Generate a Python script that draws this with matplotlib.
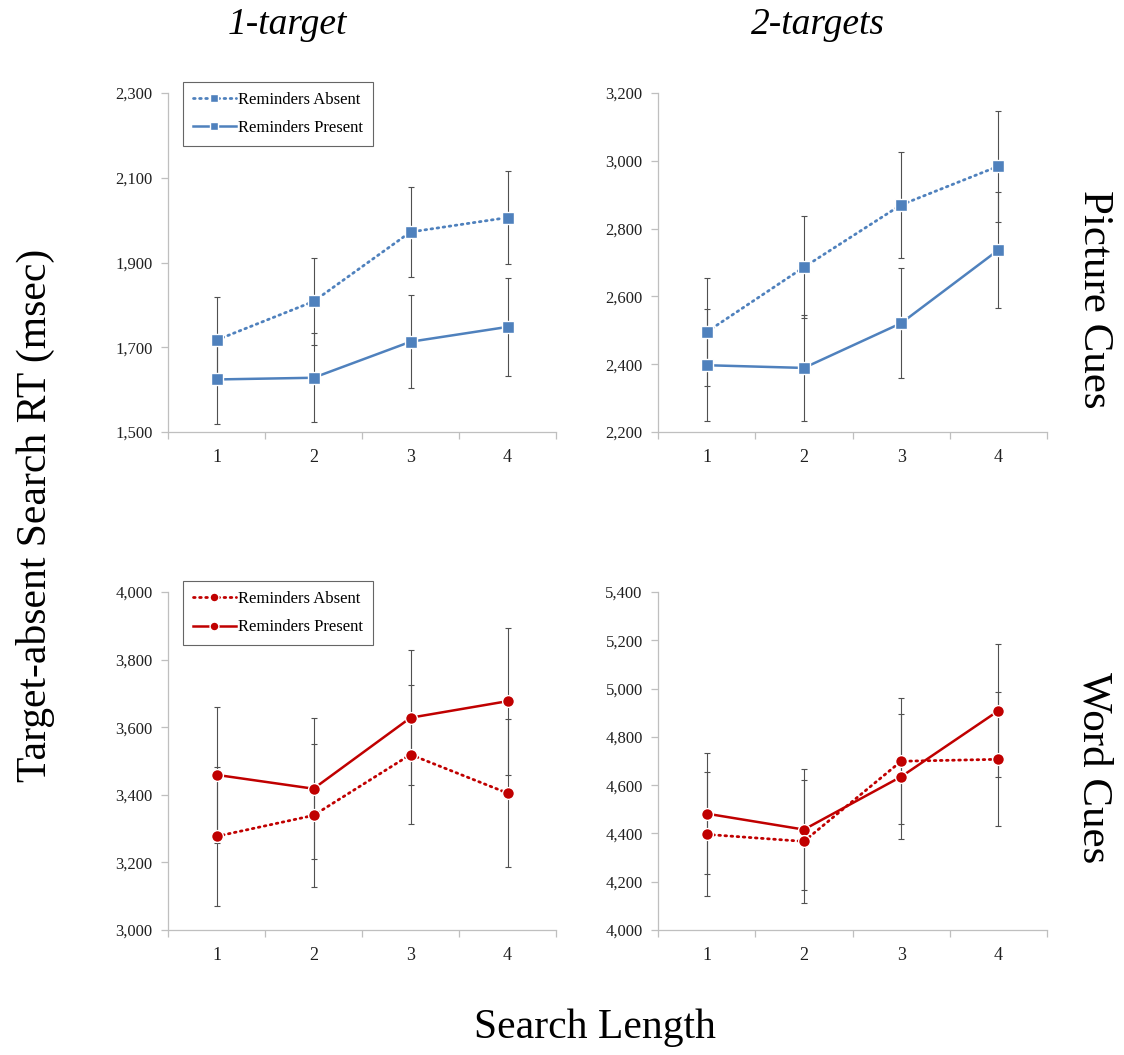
import matplotlib.pyplot as plt
import numpy as np

plt.rcParams['font.family'] = ['Liberation Serif', 'DejaVu Serif']

# search length categories
lengths = [1, 2, 3, 4]

# picture cues, 1 target
pic1_absent = [1717, 1808, 1972, 2006]
pic1_absent_err = [102, 102, 106, 110]
pic1_present = [1624, 1628, 1713, 1748]
pic1_present_err = [104, 105, 110, 116]

# picture cues, 2 targets
pic2_absent = [2495, 2686, 2870, 2984]
pic2_absent_err = [159, 150, 157, 164]
pic2_present = [2397, 2389, 2521, 2737]
pic2_present_err = [165, 156, 163, 171]

# word cues, 1 target
word1_absent = [3277, 3339, 3519, 3405]
word1_absent_err = [205, 211, 205, 219]
word1_present = [3459, 3418, 3628, 3677]
word1_present_err = [202, 209, 200, 217]

# word cues, 2 targets
word2_absent = [4396, 4367, 4699, 4707]
word2_absent_err = [257, 254, 262, 278]
word2_present = [4482, 4416, 4635, 4908]
word2_present_err = [251, 251, 258, 275]

blue = '#4F81BD'
red = '#C00000'
W, H = 1124, 1055

fig = plt.figure(figsize=(W / 100, H / 100), dpi=100)


def px_axes(x0, y0, x1, y1):
    return fig.add_axes([x0 / W, 1 - y1 / H, (x1 - x0) / W, (y1 - y0) / H])


panels = [
    (px_axes(168, 93, 556, 432), pic1_absent, pic1_absent_err, pic1_present, pic1_present_err,
     blue, 's', (1500, 2300, 200), True),
    (px_axes(658, 93, 1047, 432), pic2_absent, pic2_absent_err, pic2_present, pic2_present_err,
     blue, 's', (2200, 3200, 200), False),
    (px_axes(168, 592, 556, 930), word1_absent, word1_absent_err, word1_present, word1_present_err,
     red, 'o', (3000, 4000, 200), True),
    (px_axes(658, 592, 1047, 930), word2_absent, word2_absent_err, word2_present, word2_present_err,
     red, 'o', (4000, 5400, 200), False),
]

for ax, ab, ab_err, pr, pr_err, col, mk, (lo, hi, step), show_leg in panels:
    ms = 8 if mk == 's' else 8.5
    ax.errorbar(lengths, ab, yerr=ab_err, fmt='none', ecolor='#505050', elinewidth=0.8,
                capsize=2.5, capthick=0.8, zorder=2)
    ax.errorbar(lengths, pr, yerr=pr_err, fmt='none', ecolor='#505050', elinewidth=0.8,
                capsize=2.5, capthick=0.8, zorder=2)
    ax.plot(lengths, pr, color=col, lw=1.8, marker=mk, ms=ms, mfc=col, mec='white',
            mew=1.0, label='Reminders Present', zorder=3)
    ax.plot(lengths, ab, color=col, lw=2.0, ls=(0, (0.6, 1.6)), dash_capstyle='round',
            marker=mk, ms=ms, mfc=col, mec='white', mew=1.0, label='Reminders Absent', zorder=4)

    ax.set_xlim(0.5, 4.5)
    ax.set_ylim(lo, hi)
    ax.set_xticks(lengths)
    ax.set_xticks(np.arange(0.5, 4.6, 1), minor=True)
    ax.tick_params(axis='x', which='major', length=0, pad=12, labelsize=13, labelcolor='#202020')
    ax.tick_params(axis='x', which='minor', length=5, width=0.9, color='#BFBFBF')
    ax.set_yticks(np.arange(lo, hi + 1, step))
    ax.set_yticklabels([f'{v:,}' for v in range(lo, hi + 1, step)])
    ax.tick_params(axis='y', length=5, width=0.9, color='#BFBFBF', pad=6, labelsize=12,
                   labelcolor='#202020')
    for s in ['top', 'right']:
        ax.spines[s].set_visible(False)
    for s in ['left', 'bottom']:
        ax.spines[s].set_color('#BFBFBF')
        ax.spines[s].set_linewidth(0.9)

    if show_leg:
        h, l = ax.get_legend_handles_labels()
        leg = ax.legend(h[::-1], l[::-1], loc='upper left', bbox_to_anchor=(0.038, 1.033),
                        fontsize=12, frameon=True, fancybox=False, edgecolor='#404040',
                        handlelength=2.6, handletextpad=0.1, borderpad=0.6, labelspacing=0.75,
                        borderaxespad=0, markerscale=0.75)
        leg.get_frame().set_linewidth(0.8)

fig.text(287, H - 25, '1-target', transform=None, fontsize=27, style='italic',
         ha='center', va='center')
fig.text(818, H - 25, '2-targets', transform=None, fontsize=27, style='italic',
         ha='center', va='center')
fig.text(1094, H - 299, 'Picture Cues', transform=None, fontsize=31, rotation=-90,
         ha='center', va='center')
fig.text(1094, H - 768, 'Word Cues', transform=None, fontsize=31, rotation=-90,
         ha='center', va='center')
fig.text(35, H - 515, 'Target-absent Search RT (msec)', transform=None, fontsize=30,
         rotation=90, ha='center', va='center')
fig.text(595, H - 1028, 'Search Length', transform=None, fontsize=30,
         ha='center', va='center')

fig.savefig('out.png', dpi=100, facecolor='white')
